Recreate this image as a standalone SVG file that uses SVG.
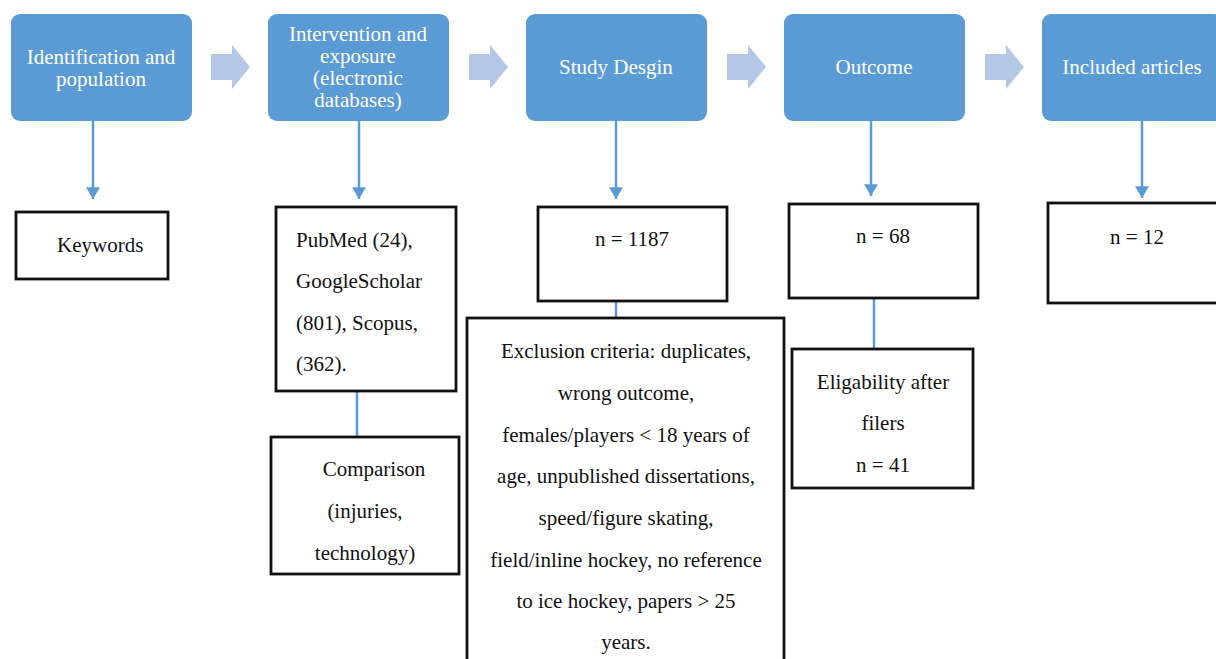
<svg xmlns="http://www.w3.org/2000/svg" width="1216" height="659" viewBox="0 0 1216 659">
<defs>
<style>
.hdr{fill:#5b9bd5}
.chev{fill:#b4c7e7}
.ht{fill:#fff;font-family:'Liberation Serif','Times New Roman',serif;font-size:21px;text-anchor:middle}
.bx{fill:#fff;stroke:#111;stroke-width:2.8}
.bt{fill:#111;font-family:'Liberation Serif','Times New Roman',serif;font-size:21px}
.c{text-anchor:middle}
.ln{stroke:#5b9bd5;stroke-width:2.5;fill:none}
</style>
<marker id="ah" viewBox="0 0 10 12" refX="10" refY="6" markerWidth="16" markerHeight="14" markerUnits="userSpaceOnUse" orient="auto">
<path d="M0,0 L10,6 L0,12 Z" fill="#5b9bd5"/>
</marker>
</defs>
<rect width="1216" height="659" fill="#fff"/>

<g id="connectors">
<path class="chev" d="M211,54 H232 V45 L250,67 L232,89 V80 H211 Z"/>
<path class="chev" d="M469,54 H490 V45 L508,67 L490,89 V80 H469 Z"/>
<path class="chev" d="M727,54 H748 V45 L766,67 L748,89 V80 H727 Z"/>
<path class="chev" d="M985,54 H1006 V45 L1024,67 L1006,89 V80 H985 Z"/>
<line class="ln" x1="93" y1="121" x2="93" y2="199" marker-end="url(#ah)"/>
<line class="ln" x1="359" y1="121" x2="359" y2="199" marker-end="url(#ah)"/>
<line class="ln" x1="616" y1="121" x2="616" y2="199" marker-end="url(#ah)"/>
<line class="ln" x1="871" y1="121" x2="871" y2="196" marker-end="url(#ah)"/>
<line class="ln" x1="1142" y1="121" x2="1142" y2="198" marker-end="url(#ah)"/>
<line class="ln" x1="357" y1="391" x2="357" y2="437"/>
<line class="ln" x1="616" y1="301" x2="616" y2="318"/>
<line class="ln" x1="874" y1="298" x2="874" y2="349"/>
</g>

<g id="n1">
<rect class="hdr" x="11" y="14" width="181" height="107" rx="9"/>
<text class="ht" x="101" y="64">Identification and</text>
<text class="ht" x="101" y="86">population</text>
</g>
<g id="n2">
<rect class="hdr" x="268" y="14" width="181" height="107" rx="9"/>
<text class="ht" x="358" y="41">Intervention and</text>
<text class="ht" x="358" y="63">exposure</text>
<text class="ht" x="358" y="85">(electronic</text>
<text class="ht" x="358" y="107">databases)</text>
</g>
<g id="n3">
<rect class="hdr" x="526" y="14" width="181" height="107" rx="9"/>
<text class="ht" x="616" y="74">Study Desgin</text>
</g>
<g id="n4">
<rect class="hdr" x="784" y="14" width="181" height="107" rx="9"/>
<text class="ht" x="874" y="74">Outcome</text>
</g>
<g id="n5">
<rect class="hdr" x="1042" y="14" width="181" height="107" rx="9"/>
<text class="ht" x="1132" y="74">Included articles</text>
</g>

<g id="keywords">
<rect class="bx" x="16" y="212" width="152" height="67"/>
<text class="bt" x="57" y="252">Keywords</text>
</g>
<g id="databases">
<rect class="bx" x="276" y="207" width="180" height="184"/>
<text class="bt" x="296" y="247">PubMed (24),</text>
<text class="bt" x="296" y="288">GoogleScholar</text>
<text class="bt" x="296" y="330">(801), Scopus,</text>
<text class="bt" x="296" y="371">(362).</text>
</g>
<g id="comparison">
<rect class="bx" x="271" y="437" width="188" height="137"/>
<text class="bt c" x="374" y="476">Comparison</text>
<text class="bt c" x="365" y="518">(injuries,</text>
<text class="bt c" x="365" y="560">technology)</text>
</g>
<g id="n1187">
<rect class="bx" x="538" y="207" width="189" height="94"/>
<text class="bt c" x="632" y="246">n = 1187</text>
</g>
<g id="exclusion">
<rect class="bx" x="467" y="318" width="317" height="346"/>
<text class="bt c" x="626" y="358">Exclusion criteria: duplicates,</text>
<text class="bt c" x="626" y="400">wrong outcome,</text>
<text class="bt c" x="626" y="442">females/players &lt; 18 years of</text>
<text class="bt c" x="626" y="483">age, unpublished dissertations,</text>
<text class="bt c" x="626" y="525">speed/figure skating,</text>
<text class="bt c" x="626" y="567">field/inline hockey, no reference</text>
<text class="bt c" x="626" y="608">to ice hockey, papers &gt; 25</text>
<text class="bt c" x="626" y="649">years.</text>
</g>
<g id="n68">
<rect class="bx" x="789" y="204" width="189" height="94"/>
<text class="bt c" x="883" y="243">n = 68</text>
</g>
<g id="eligibility">
<rect class="bx" x="792" y="349" width="181" height="139"/>
<text class="bt c" x="883" y="389">Eligability after</text>
<text class="bt c" x="883" y="430">filers</text>
<text class="bt c" x="883" y="472">n = 41</text>
</g>
<g id="n12">
<rect class="bx" x="1048" y="203" width="170" height="100"/>
<text class="bt c" x="1137" y="244">n = 12</text>
</g>
</svg>
